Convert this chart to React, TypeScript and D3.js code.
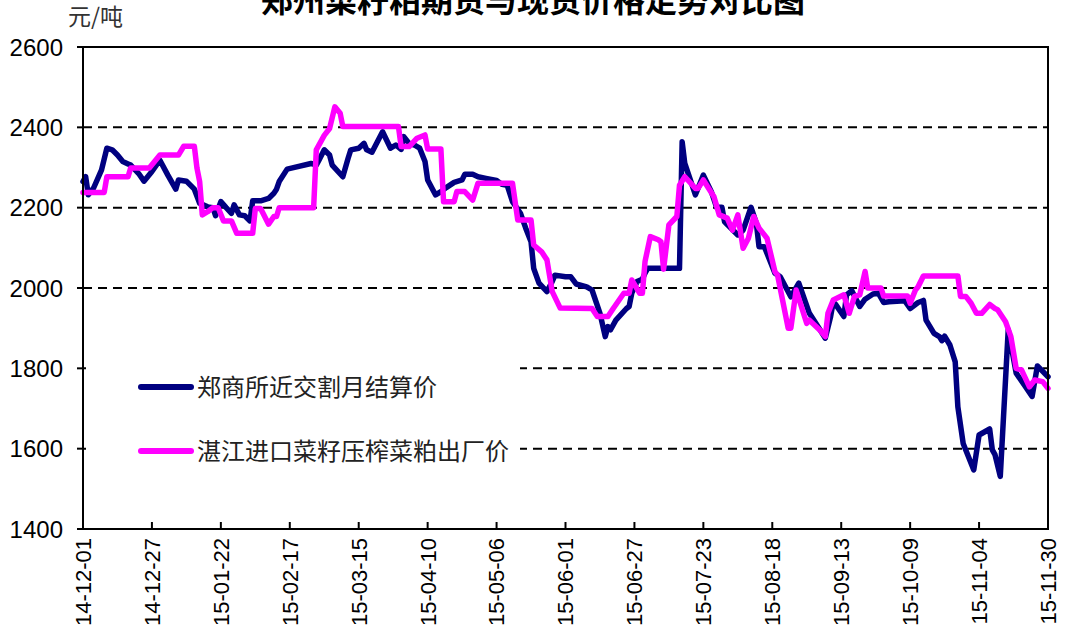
import React from "react";
import * as d3 from "d3";

const TITLE = "郑州菜籽粕期货与现货价格走势对比图";
const UNIT = "元/吨";
const SERIES_NAMES = ["郑商所近交割月结算价", "湛江进口菜籽压榨菜粕出厂价"];
const COLORS = ["#000080", "#FF00FF"];

const X_TICKS = [
  "2014-12-01", "2014-12-27", "2015-01-22", "2015-02-17", "2015-03-15",
  "2015-04-10", "2015-05-06", "2015-06-01", "2015-06-27", "2015-07-23",
  "2015-08-18", "2015-09-13", "2015-10-09", "2015-11-04", "2015-11-30",
];
const Y_TICKS = [1400, 1600, 1800, 2000, 2200, 2400, 2600];

const FUTURES_DATES = [
  "2014-12-01","2014-12-02","2014-12-03","2014-12-05","2014-12-08","2014-12-10","2014-12-12","2014-12-14",
  "2014-12-16","2014-12-18","2014-12-19","2014-12-22","2014-12-24","2014-12-27","2014-12-30",
  "2015-01-02","2015-01-05","2015-01-06","2015-01-09","2015-01-12","2015-01-14","2015-01-17","2015-01-19",
  "2015-01-20","2015-01-22","2015-01-24","2015-01-26","2015-01-27","2015-01-29","2015-01-31",
  "2015-02-02","2015-02-03","2015-02-06","2015-02-09","2015-02-11","2015-02-12","2015-02-13","2015-02-16",
  "2015-02-18","2015-02-25","2015-02-27","2015-02-28",
  "2015-03-02","2015-03-04","2015-03-05","2015-03-09","2015-03-11","2015-03-12","2015-03-15","2015-03-17",
  "2015-03-18","2015-03-20","2015-03-24","2015-03-27","2015-03-29","2015-03-31",
  "2015-04-01","2015-04-03","2015-04-05","2015-04-07","2015-04-09","2015-04-10","2015-04-12","2015-04-13",
  "2015-04-15","2015-04-17","2015-04-20","2015-04-23","2015-04-24","2015-04-27","2015-04-29",
  "2015-05-02","2015-05-06","2015-05-08","2015-05-10","2015-05-12","2015-05-15","2015-05-17","2015-05-19",
  "2015-05-20","2015-05-22","2015-05-25","2015-05-27","2015-05-28",
  "2015-06-01","2015-06-03","2015-06-05","2015-06-09","2015-06-11","2015-06-14","2015-06-16","2015-06-17",
  "2015-06-18","2015-06-20","2015-06-24","2015-06-25","2015-06-26","2015-06-28","2015-06-30",
  "2015-07-01","2015-07-02","2015-07-14","2015-07-15","2015-07-16","2015-07-20","2015-07-23","2015-07-26",
  "2015-07-28","2015-07-30","2015-07-31",
  "2015-08-05","2015-08-07","2015-08-10","2015-08-12","2015-08-13","2015-08-15","2015-08-19","2015-08-21",
  "2015-08-25","2015-08-28",
  "2015-09-01","2015-09-05","2015-09-07","2015-09-09","2015-09-10","2015-09-11","2015-09-14","2015-09-15",
  "2015-09-17","2015-09-20","2015-09-22","2015-09-25","2015-09-27","2015-09-29",
  "2015-10-01","2015-10-07","2015-10-09","2015-10-12","2015-10-14","2015-10-15","2015-10-18","2015-10-20",
  "2015-10-21","2015-10-22","2015-10-24","2015-10-26","2015-10-27","2015-10-29",
  "2015-11-02","2015-11-04","2015-11-08","2015-11-09","2015-11-10","2015-11-12","2015-11-15","2015-11-18",
  "2015-11-21","2015-11-24","2015-11-26","2015-11-30",
];
const FUTURES_VALUES = [
  2265,2277,2232,2249,2294,2348,2344,2331,
  2315,2309,2306,2285,2266,2290,2318,
  2281,2246,2269,2266,2246,2211,2202,2200,
  2180,2215,2200,2186,2207,2182,2180,
  2167,2217,2217,2223,2236,2246,2265,2296,
  2299,2310,2306,2318,
  2344,2331,2306,2277,2323,2344,2348,2360,
  2344,2338,2389,2348,2356,2345,
  2377,2360,2356,2348,2315,2269,2244,2232,
  2240,2250,2263,2269,2283,2283,2277,
  2273,2268,2258,2256,2215,2186,2149,2115,
  2049,2012,1991,2016,2032,
  2028,2028,2010,2003,1995,1937,1879,1904,
  1896,1920,1949,1954,1987,2016,2022,
  2037,2049,2049,2364,2310,2232,2281,2240,
  2201,2201,2165,
  2132,2144,2201,2161,2103,2103,2037,2028,
  1978,2012,
  1937,1896,1875,1929,1966,1958,1929,1983,
  1993,1954,1972,1985,1987,1964,
  1966,1968,1949,1964,1969,1920,1887,1879,
  1869,1880,1858,1816,1704,1613,
  1547,1634,1649,1597,1585,1531,1896,1788,
  1759,1730,1806,1779,
];

const SPOT_DATES = [
  "2014-12-01","2014-12-09","2014-12-10","2014-12-18","2014-12-19","2014-12-26","2014-12-30",
  "2015-01-06","2015-01-08","2015-01-12","2015-01-13","2015-01-14","2015-01-15","2015-01-17","2015-01-19",
  "2015-01-21","2015-01-23","2015-01-26","2015-01-28",
  "2015-02-03","2015-02-04","2015-02-06","2015-02-09","2015-02-11","2015-02-12","2015-02-13","2015-02-26",
  "2015-02-27",
  "2015-03-02","2015-03-04","2015-03-06","2015-03-08","2015-03-09","2015-03-30","2015-03-31",
  "2015-04-03","2015-04-06","2015-04-09","2015-04-10","2015-04-15","2015-04-16","2015-04-20","2015-04-21",
  "2015-04-24","2015-04-27","2015-04-29",
  "2015-05-12","2015-05-14","2015-05-19","2015-05-20","2015-05-23","2015-05-25","2015-05-27","2015-05-30",
  "2015-06-11","2015-06-13","2015-06-17","2015-06-19","2015-06-23","2015-06-25","2015-06-26","2015-06-29",
  "2015-06-30",
  "2015-07-01","2015-07-03","2015-07-06","2015-07-07","2015-07-08","2015-07-10","2015-07-13","2015-07-14",
  "2015-07-16","2015-07-20","2015-07-21","2015-07-23","2015-07-27","2015-07-29",
  "2015-08-01","2015-08-03","2015-08-05","2015-08-07","2015-08-09","2015-08-11","2015-08-13","2015-08-16",
  "2015-08-19","2015-08-20","2015-08-24","2015-08-25","2015-08-27","2015-08-31",
  "2015-09-01","2015-09-05","2015-09-07","2015-09-08","2015-09-10","2015-09-14","2015-09-16","2015-09-18",
  "2015-09-20","2015-09-22","2015-09-23","2015-09-28","2015-09-29",
  "2015-10-08","2015-10-09","2015-10-11","2015-10-12","2015-10-14","2015-10-27","2015-10-28","2015-10-30",
  "2015-11-01","2015-11-03","2015-11-05","2015-11-08","2015-11-10","2015-11-11","2015-11-14","2015-11-16",
  "2015-11-18","2015-11-20","2015-11-23","2015-11-25","2015-11-28","2015-11-30",
];
const SPOT_VALUES = [
  2238,2238,2277,2277,2299,2299,2331,
  2331,2353,2353,2298,2265,2182,2190,2200,
  2200,2167,2167,2136,
  2136,2198,2198,2159,2178,2178,2200,2200,
  2344,
  2380,2397,2451,2435,2402,2402,2352,
  2352,2373,2381,2346,2346,2215,2215,2240,
  2240,2219,2261,
  2261,2169,2169,2107,2090,2070,1991,1950,
  1949,1929,1929,1949,1987,1987,2020,1987,
  1987,
  2066,2128,2120,2115,2047,2157,2178,2256,
  2277,2248,2248,2269,2227,2182,
  2174,2144,2182,2099,2124,2178,2149,2124,
  2041,2032,1900,1900,1995,1912,
  1920,1895,1879,1937,1970,1983,1937,1979,
  1983,2041,2000,2000,1980,
  1980,1962,1995,2003,2030,2030,1979,1979,
  1962,1937,1937,1959,1949,1946,1916,1879,
  1800,1796,1754,1771,1767,1750,
];

const W = 1067;
const H = 639;
const PLOT = { left: 83, right: 1048, top: 47, bottom: 529 };
const NUM_FONT = "'Liberation Sans', Arial, sans-serif";
const CJK_FONT = "'Noto Sans CJK SC', 'Noto Sans', sans-serif";

export default function App() {
  const parse = d3.timeParse("%Y-%m-%d");
  const fmt = d3.timeFormat("%y-%m-%d");
  const x = d3
    .scaleTime()
    .domain([parse(X_TICKS[0])!, parse(X_TICKS[X_TICKS.length - 1])!])
    .range([PLOT.left, PLOT.right]);
  const y = d3.scaleLinear().domain([1400, 2600]).range([PLOT.bottom, PLOT.top]);

  const series = [
    { name: SERIES_NAMES[0], color: COLORS[0], pts: FUTURES_DATES.map((d, i) => [parse(d)!, FUTURES_VALUES[i]] as [Date, number]) },
    { name: SERIES_NAMES[1], color: COLORS[1], pts: SPOT_DATES.map((d, i) => [parse(d)!, SPOT_VALUES[i]] as [Date, number]) },
  ];
  const line = d3
    .line<[Date, number]>()
    .x((d) => x(d[0]))
    .y((d) => y(d[1]));

  const legendY = [387, 451];

  return (
    <svg width={W} height={H} style={{ position: "absolute", left: 0, top: 0, background: "#fff" }}>
      <rect x={0} y={0} width={W} height={H} fill="#fff" />
      <text x={533} y={12} textAnchor="middle" fontFamily={CJK_FONT} fontSize={32} fontWeight={700} fill="#000">
        {TITLE}
      </text>
      <text x={68} y={25} fontFamily={CJK_FONT} fontSize={23} fill="#333">
        {UNIT}
      </text>

      {Y_TICKS.filter((v) => v > 1400 && v < 2600).map((v) => (
        <line key={"g" + v} x1={PLOT.left} x2={PLOT.right} y1={y(v)} y2={y(v)} stroke="#000" strokeWidth={2} strokeDasharray="9,6" />
      ))}

      <rect x={86} y={352} width={434} height={118} fill="#fff" />

      {series.map((s) => (
        <path key={s.name} d={line(s.pts) || ""} fill="none" stroke={s.color} strokeWidth={5.5} strokeLinejoin="round" strokeLinecap="round" />
      ))}

      {series.map((s, i) => (
        <g key={"lg" + i}>
          <line x1={141} x2={191} y1={legendY[i]} y2={legendY[i]} stroke={s.color} strokeWidth={6} strokeLinecap="round" />
          <text x={197} y={legendY[i]} dy="0.36em" fontFamily={CJK_FONT} fontSize={24} fill="#222">
            {s.name}
          </text>
        </g>
      ))}

      <rect x={PLOT.left} y={PLOT.top} width={PLOT.right - PLOT.left} height={PLOT.bottom - PLOT.top} fill="none" stroke="#000" strokeWidth={2} />

      {Y_TICKS.map((v) => (
        <g key={"y" + v}>
          <line x1={PLOT.left - 6} x2={PLOT.left} y1={y(v)} y2={y(v)} stroke="#000" strokeWidth={2} />
          <text x={63} y={y(v)} dy="0.36em" textAnchor="end" fontFamily={NUM_FONT} fontSize={24} fill="#000">
            {v}
          </text>
        </g>
      ))}

      {X_TICKS.map((t) => {
        const xx = x(parse(t)!);
        return (
          <g key={"x" + t}>
            <line x1={xx} x2={xx} y1={PLOT.bottom} y2={PLOT.bottom - 7} stroke="#000" strokeWidth={2} />
            <text
              transform={`translate(${xx},${PLOT.bottom + 9}) rotate(-90)`}
              dy="0.36em"
              textAnchor="end"
              fontFamily={NUM_FONT}
              fontSize={22}
              fill="#000"
            >
              {fmt(parse(t)!)}
            </text>
          </g>
        );
      })}
    </svg>
  );
}
